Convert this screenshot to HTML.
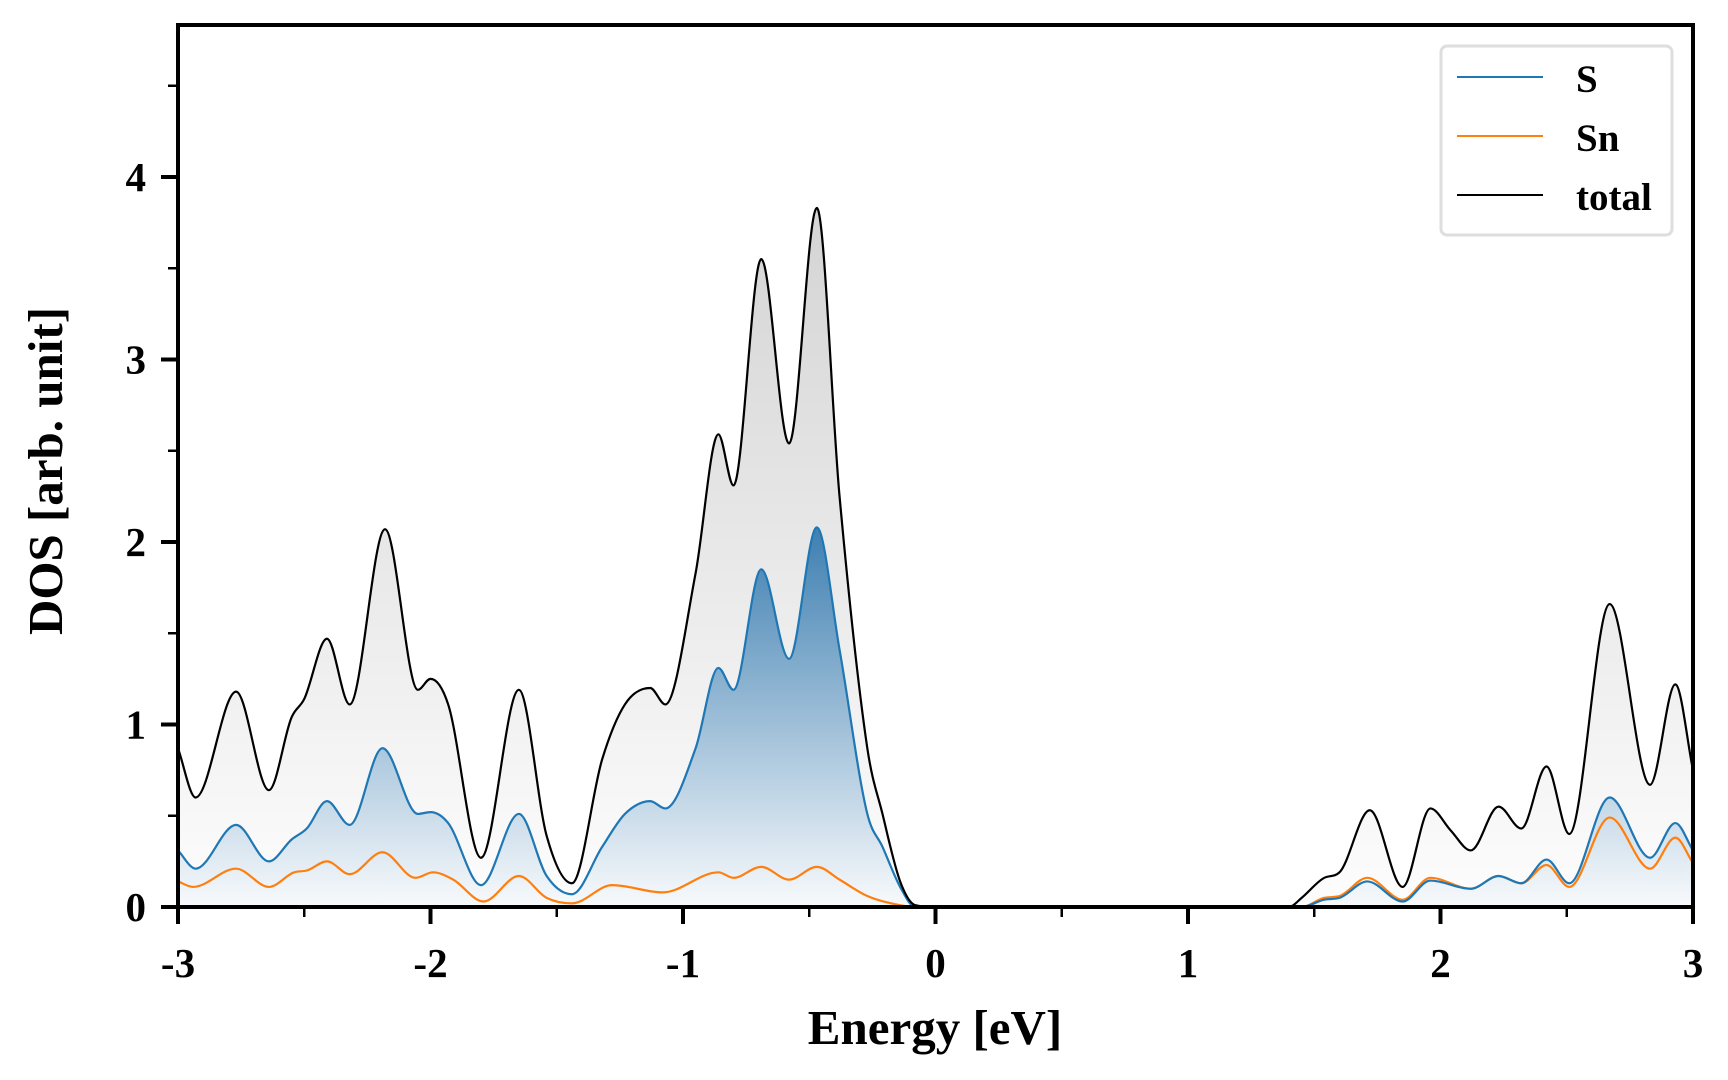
<!DOCTYPE html>
<html><head><meta charset="utf-8"><style>
html,body{margin:0;padding:0;background:#fff;}
svg{display:block;font-family:"Liberation Serif",serif;font-weight:bold;}
</style></head><body>
<svg id="chart" width="1728" height="1080" viewBox="0 0 1728 1080" xmlns="http://www.w3.org/2000/svg">
<defs>
<linearGradient id="gTot" x1="0" y1="0" x2="0" y2="1"><stop offset="0" stop-color="#d4d4d4"/><stop offset="1" stop-color="#fdfdfd"/></linearGradient>
<linearGradient id="gS" x1="0" y1="0" x2="0" y2="1"><stop offset="0" stop-color="#3e7fb1"/><stop offset="1" stop-color="#f8fafc"/></linearGradient>
<clipPath id="clip"><rect x="178" y="25" width="1515" height="882"/></clipPath>
</defs>
<g id="plot" clip-path="url(#clip)"></g>
<g id="axes"></g>
<rect x="178" y="25" width="1515" height="882" fill="none" stroke="#000" stroke-width="4"/>
<text x="935" y="1044" font-size="49" text-anchor="middle">Energy [eV]</text>
<text transform="translate(62,471) rotate(-90)" font-size="49" text-anchor="middle">DOS [arb. unit]</text>
<g>
<rect x="1441" y="46" width="231" height="189" rx="6" fill="#fff" stroke="#dedede" stroke-width="3"/>
<g><line x1="1457" y1="77" x2="1543" y2="77" stroke="#1f77b4" stroke-width="2"/><text x="1576" y="92" font-size="39">S</text></g>
<g><line x1="1457" y1="136" x2="1543" y2="136" stroke="#ff7f0e" stroke-width="2"/><text x="1576" y="151" font-size="39">Sn</text></g>
<g><line x1="1457" y1="195" x2="1543" y2="195" stroke="#000" stroke-width="2"/><text x="1576" y="210" font-size="39">total</text></g>
</g>
</svg>
<script>
const totalE=[-3,-2.93,-2.77,-2.64,-2.55,-2.5,-2.41,-2.32,-2.18,-2.05,-2.0,-1.93,-1.8,-1.65,-1.54,-1.44,-1.32,-1.23,-1.13,-1.07,-0.95,-0.86,-0.8,-0.69,-0.58,-0.47,-0.38,-0.27,-0.21,-0.14,-0.08,0,0.5,1.0,1.4,1.45,1.54,1.6,1.72,1.85,1.96,2.04,2.12,2.23,2.32,2.42,2.51,2.67,2.83,2.93,3.0];
const totalV=[0.87,0.6,1.18,0.64,1.04,1.14,1.47,1.11,2.07,1.19,1.25,1.11,0.27,1.19,0.39,0.13,0.81,1.11,1.2,1.11,1.83,2.59,2.31,3.55,2.54,3.83,2.25,0.87,0.51,0.14,0.01,0,0,0,0,0.05,0.16,0.19,0.53,0.11,0.54,0.42,0.31,0.55,0.43,0.77,0.4,1.66,0.67,1.22,0.75];
const sE=[-3,-2.93,-2.77,-2.64,-2.55,-2.49,-2.41,-2.32,-2.19,-2.05,-2.0,-1.93,-1.8,-1.65,-1.54,-1.44,-1.32,-1.23,-1.13,-1.07,-0.95,-0.86,-0.8,-0.69,-0.58,-0.47,-0.38,-0.27,-0.21,-0.14,-0.08,0,0.5,1.0,1.45,1.54,1.6,1.71,1.85,1.96,2.12,2.23,2.32,2.42,2.51,2.67,2.83,2.93,3.0];
const sV=[0.31,0.21,0.45,0.25,0.37,0.43,0.58,0.45,0.87,0.51,0.52,0.46,0.12,0.51,0.17,0.07,0.33,0.51,0.58,0.54,0.87,1.31,1.19,1.85,1.36,2.08,1.41,0.51,0.33,0.11,0,0,0,0,0,0.04,0.05,0.14,0.03,0.145,0.1,0.17,0.13,0.26,0.13,0.6,0.27,0.46,0.31];
const snE=[-3,-2.94,-2.77,-2.64,-2.54,-2.49,-2.41,-2.32,-2.19,-2.06,-1.99,-1.91,-1.79,-1.65,-1.54,-1.44,-1.28,-1.08,-0.86,-0.8,-0.69,-0.58,-0.47,-0.38,-0.27,-0.14,-0.08,0,0.5,1.0,1.45,1.54,1.6,1.71,1.85,1.96,2.12,2.23,2.32,2.42,2.51,2.67,2.83,2.93,3.0];
const snV=[0.14,0.11,0.21,0.11,0.19,0.2,0.25,0.18,0.3,0.16,0.19,0.15,0.03,0.17,0.05,0.02,0.12,0.08,0.19,0.16,0.22,0.15,0.22,0.15,0.06,0.01,0,0,0,0,0,0.05,0.06,0.16,0.04,0.16,0.1,0.17,0.13,0.23,0.11,0.49,0.21,0.38,0.24];
const xTicks=[-3,-2,-1,0,1,2,3];
const xTickLabels=["-3","-2","-1","0","1","2","3"];
const yTicks=[0,1,2,3,4];
const yTickLabels=["0","1","2","3","4"];

const X0=178,X1=1693,Y0=907,YT=25,XMIN=-3,XMAX=3,YPX=182.5;
function xs(e){return X0+(e-XMIN)/(XMAX-XMIN)*(X1-X0);}
function ys(v){return Y0-v*YPX;}
const NS="http://www.w3.org/2000/svg";

function monotonePath(E,V){
  const n=E.length,px=E.map(xs),py=V.map(ys);
  const d=[],m=new Array(n);
  for(let i=0;i<n-1;i++)d.push((py[i+1]-py[i])/(px[i+1]-px[i]));
  m[0]=d[0];m[n-1]=d[n-2];
  for(let i=1;i<n-1;i++){m[i]=(d[i-1]*d[i]<=0)?0:(d[i-1]+d[i])/2;}
  for(let i=0;i<n-1;i++){
    if(d[i]===0){m[i]=0;m[i+1]=0;continue;}
    const a=m[i]/d[i],b=m[i+1]/d[i],s=a*a+b*b;
    if(s>9){const t=3/Math.sqrt(s);m[i]=t*a*d[i];m[i+1]=t*b*d[i];}
  }
  let p="M"+px[0].toFixed(2)+","+py[0].toFixed(2);
  for(let i=0;i<n-1;i++){
    const h=(px[i+1]-px[i])/3;
    p+="C"+(px[i]+h).toFixed(2)+","+(py[i]+m[i]*h).toFixed(2)+" "+(px[i+1]-h).toFixed(2)+","+(py[i+1]-m[i+1]*h).toFixed(2)+" "+px[i+1].toFixed(2)+","+py[i+1].toFixed(2);
  }
  return p;
}
const plot=document.getElementById('plot');
function addFill(E,V,fill,name){
  const p=document.createElementNS(NS,'path');
  p.setAttribute('d',monotonePath(E,V)+"L"+xs(E[E.length-1])+","+Y0+"L"+xs(E[0])+","+Y0+"Z");
  p.setAttribute('fill',fill);
  
  
  plot.appendChild(p);
}
function addLine(E,V,color,name){
  const p=document.createElementNS(NS,'path');
  p.setAttribute('d',monotonePath(E,V));
  p.setAttribute('fill','none');
  p.setAttribute('stroke',color);
  p.setAttribute('stroke-width','2.2');
  
  
  plot.appendChild(p);
}
addFill(totalE,totalV,'url(#gTot)','total-fill');
addFill(sE,sV,'url(#gS)','s-fill');
addLine(snE,snV,'#ff7f0e','sn-line');
addLine(sE,sV,'#1f77b4','s-line');
addLine(totalE,totalV,'#000','total-line');

const axes=document.getElementById('axes');
function ln(x1,y1,x2,y2,w,name){
  const l=document.createElementNS(NS,'line');
  l.setAttribute('x1',x1);l.setAttribute('y1',y1);l.setAttribute('x2',x2);l.setAttribute('y2',y2);
  l.setAttribute('stroke','#000');l.setAttribute('stroke-width',w);
  
  
  axes.appendChild(l);
}
function tx(x,y,s,anchor,name){
  const t=document.createElementNS(NS,'text');
  t.setAttribute('x',x);t.setAttribute('y',y);t.setAttribute('font-size','41');t.setAttribute('text-anchor',anchor);
  t.textContent=s;
  
  
  axes.appendChild(t);
}
xTicks.forEach((v,i)=>{ln(xs(v),Y0,xs(v),Y0+17,4,'x-tick');tx(xs(v),Y0+70,xTickLabels[i],'middle','x-tick-label');});
for(let v=-2.5;v<3;v+=1){ln(xs(v),Y0,xs(v),Y0+10,2.5,'x-minor-tick');}
yTicks.forEach((v,i)=>{ln(X0-17,ys(v),X0,ys(v),4,'y-tick');tx(X0-32,ys(v)+14,yTickLabels[i],'end','y-tick-label');});
for(let v=0.5;v<4.8;v+=1){ln(X0-10,ys(v),X0,ys(v),2.5,'y-minor-tick');}
</script>
</body></html>
